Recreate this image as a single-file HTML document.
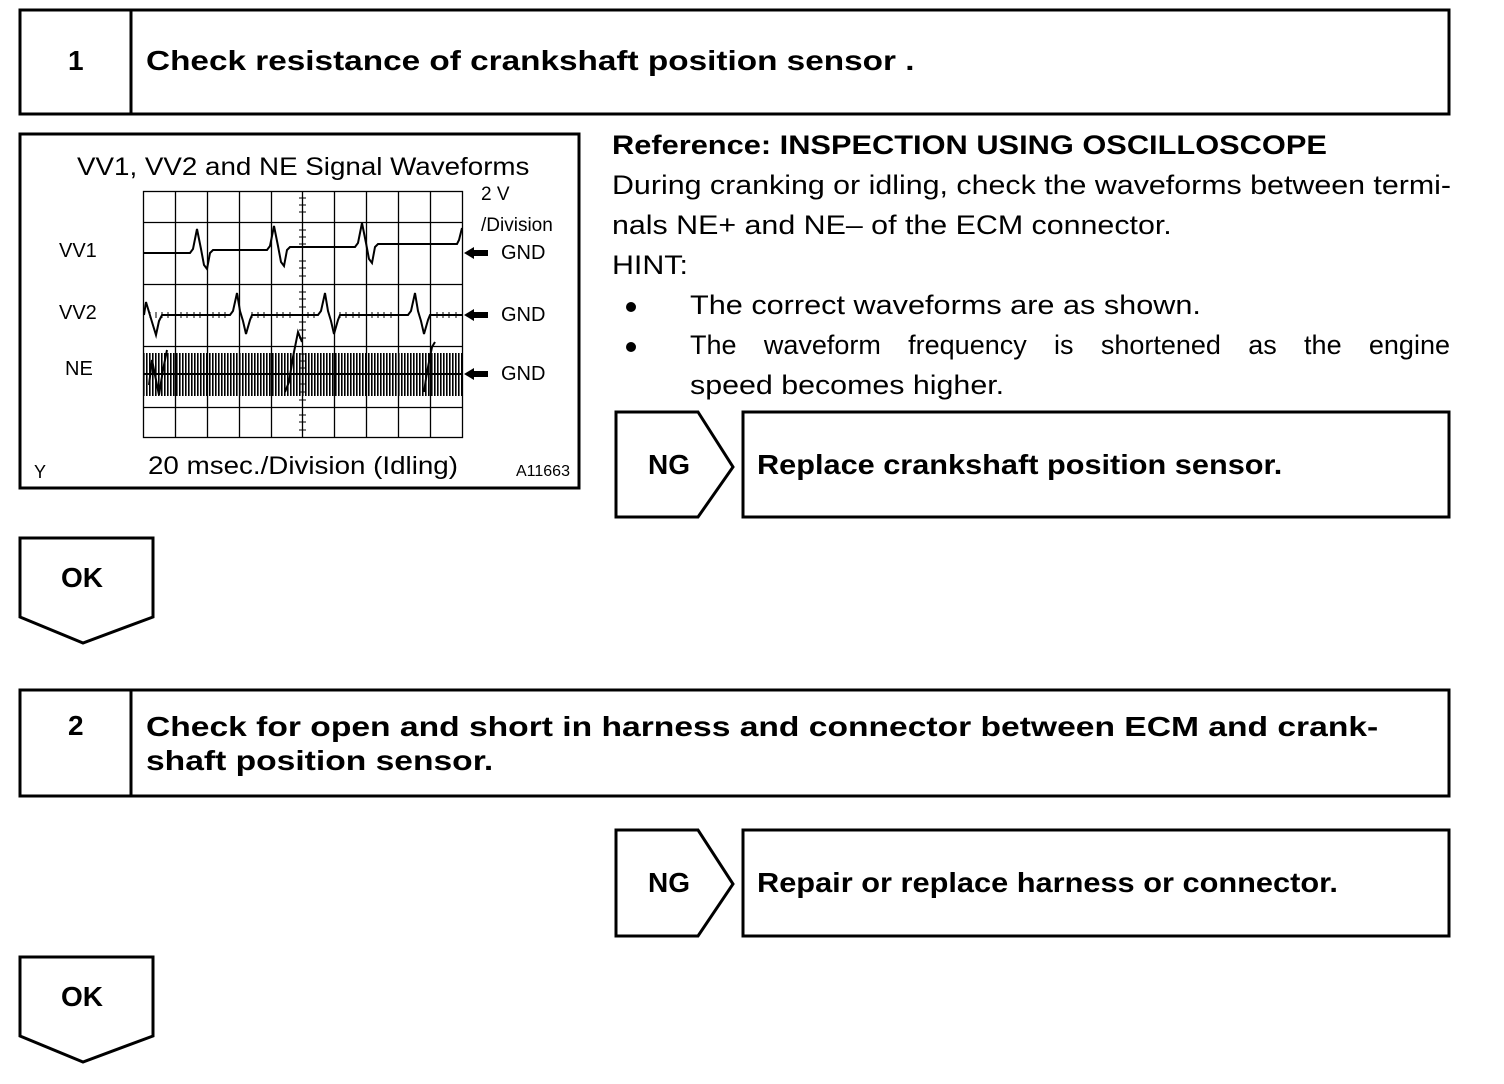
<!DOCTYPE html>
<html><head><meta charset="utf-8"><style>
html,body{margin:0;padding:0;background:#fff;}
body{width:1504px;height:1084px;position:relative;overflow:hidden;font-family:"Liberation Sans",sans-serif;color:#000;}
.t{position:absolute;white-space:nowrap;transform-origin:0 0;}
.b{font-weight:bold;}
</style></head><body>
<svg width="1504" height="1084" style="position:absolute;left:0;top:0" xmlns="http://www.w3.org/2000/svg">
<defs>
<pattern id="ne" x="143" y="0" width="3" height="60" patternUnits="userSpaceOnUse">
<rect x="0" y="0" width="1.6" height="60" fill="#000"/>
</pattern>
</defs>
<g fill="none" stroke="#000" stroke-width="3">
<rect x="20" y="10" width="1429" height="104"/>
<line x1="131" y1="10" x2="131" y2="114"/>
<rect x="20" y="134" width="559" height="354"/>
<polygon points="616,412 698,412 733,467 698,517 616,517"/>
<rect x="743" y="412" width="706" height="105"/>
<polygon points="20,538 153,538 153,617 83,643 20,617"/>
<rect x="20" y="690" width="1429" height="106"/>
<line x1="131" y1="690" x2="131" y2="796"/>
<polygon points="616,830 698,830 733,884 698,936 616,936"/>
<rect x="743" y="830" width="706" height="106"/>
<polygon points="20,957 153,957 153,1036 83,1062 20,1036"/>
</g>
<g stroke="#000" stroke-width="1.3" fill="none">
<rect x="143.5" y="191.5" width="319" height="246"/>
<line x1="175.5" y1="191" x2="175.5" y2="437"/>
<line x1="207.5" y1="191" x2="207.5" y2="437"/>
<line x1="239.5" y1="191" x2="239.5" y2="437"/>
<line x1="271.5" y1="191" x2="271.5" y2="437"/>
<line x1="302.5" y1="191" x2="302.5" y2="437"/>
<line x1="334.5" y1="191" x2="334.5" y2="437"/>
<line x1="366.5" y1="191" x2="366.5" y2="437"/>
<line x1="398.5" y1="191" x2="398.5" y2="437"/>
<line x1="430.5" y1="191" x2="430.5" y2="437"/>
<line x1="143" y1="222.5" x2="462" y2="222.5"/>
<line x1="143" y1="284.5" x2="462" y2="284.5"/>
<line x1="143" y1="346.5" x2="462" y2="346.5"/>
<line x1="143" y1="407.5" x2="462" y2="407.5"/>
</g>
<g stroke="#000" stroke-width="1">
<path d="M299 198h7M299 205h7M299 212h7M299 230h7M299 237h7M299 244h7M299 261h7M299 268h7M299 276h7M299 292h7M299 299h7M299 307h7M299 322h7M299 330h7M299 338h7M299 354h7M299 361h7M299 368h7M299 384h7M299 392h7M299 400h7M299 415h7M299 422h7M299 430h7"/>
<path d="M150 312v6M156 312v6M162 312v6M168 312v6M181 312v6M187 312v6M194 312v6M200 312v6M213 312v6M219 312v6M225 312v6M252 312v6M258 312v6M264 312v6M277 312v6M283 312v6M290 312v6M308 312v6M314 312v6M340 312v6M346 312v6M353 312v6M359 312v6M372 312v6M378 312v6M384 312v6M391 312v6M437 312v6M443 312v6M449 312v6M456 312v6"/>
</g>
<g stroke="#000" stroke-width="2" fill="none">
<path d="M143 253H190l3-4 4-20 4 20 3 16 3 4 3-16 3-3H267l3-4 4-20 4 20 3 16 3 4 3-16 3-3H355l3-4 4-20 4 20 3 16 3 4 3-16 3-3H457l2-4 3-12"/>
<path d="M144 315l2-13 3 10 3 10 4 13 3-14 3-6H230l3-4 4-18 3 18 3 10 3 13 4-14 2-5H318l3-4 4-18 3 18 3 10 3 13 4-14 2-5H408l3-4 4-18 3 18 3 10 3 13 4-14 2-5H462"/>
<path d="M149 385l3-25 4 20 3 15 4-25 4-20M285 392l4-10 4-25 5-25 4 10M424 392l3-20 5-25 3-5"/>
</g>
<rect x="143" y="353" width="319" height="43" fill="url(#ne)"/>
<line x1="143" y1="374" x2="462" y2="374" stroke="#000" stroke-width="2"/>
<g fill="#000">
<polygon points="464,253 474,247 474,250 488,250 488,256 474,256 474,259"/>
<polygon points="464,315 474,309 474,312 488,312 488,318 474,318 474,321"/>
<polygon points="464,374 474,368 474,371 488,371 488,377 474,377 474,380"/>
</g>
<g fill="#000">
<circle cx="631" cy="307" r="5"/>
<circle cx="631" cy="347" r="5"/>
</g>
</svg>

<div class="t b" style="left:68px;top:45px;font-size:28px;">1</div>
<div class="t b" style="left:146px;top:45px;font-size:28px;transform:scaleX(1.19);">Check resistance of crankshaft position sensor .</div>

<div class="t" style="left:77px;top:153px;font-size:25px;transform:scaleX(1.11);">VV1, VV2 and NE Signal Waveforms</div>
<div class="t" style="left:481px;top:184px;font-size:19px;">2 V</div>
<div class="t" style="left:481px;top:215px;font-size:19px;">/Division</div>
<div class="t" style="left:59px;top:240px;font-size:20px;">VV1</div>
<div class="t" style="left:59px;top:302px;font-size:20px;">VV2</div>
<div class="t" style="left:65px;top:358px;font-size:20px;">NE</div>
<div class="t" style="left:501px;top:242px;font-size:20px;">GND</div>
<div class="t" style="left:501px;top:304px;font-size:20px;">GND</div>
<div class="t" style="left:501px;top:363px;font-size:20px;">GND</div>
<div class="t" style="left:34px;top:462px;font-size:18px;">Y</div>
<div class="t" style="left:148px;top:452px;font-size:25px;transform:scaleX(1.11);">20 msec./Division (Idling)</div>
<div class="t" style="left:516px;top:463px;font-size:16px;">A11663</div>

<div class="t b" style="left:612px;top:130px;font-size:27px;transform:scaleX(1.14);">Reference: INSPECTION USING OSCILLOSCOPE</div>
<div class="t" style="left:612px;top:170px;font-size:27px;transform:scaleX(1.125);">During cranking or idling, check the waveforms between termi-</div>
<div class="t" style="left:612px;top:210px;font-size:27px;transform:scaleX(1.125);">nals NE+ and NE– of the ECM connector.</div>
<div class="t" style="left:612px;top:250px;font-size:27px;transform:scaleX(1.125);">HINT:</div>
<div class="t" style="left:690px;top:290px;font-size:27px;transform:scaleX(1.135);">The correct waveforms are as shown.</div>
<div class="t" style="left:690px;top:330px;font-size:27px;width:760px;display:flex;justify-content:space-between;"><span>The</span><span>waveform</span><span>frequency</span><span>is</span><span>shortened</span><span>as</span><span>the</span><span>engine</span></div>
<div class="t" style="left:690px;top:370px;font-size:27px;transform:scaleX(1.125);">speed becomes higher.</div>

<div class="t b" style="left:648px;top:449px;font-size:28px;">NG</div>
<div class="t b" style="left:757px;top:449px;font-size:28px;transform:scaleX(1.096);">Replace crankshaft position sensor.</div>
<div class="t b" style="left:61px;top:562px;font-size:28px;">OK</div>

<div class="t b" style="left:68px;top:710px;font-size:28px;">2</div>
<div class="t b" style="left:146px;top:710px;font-size:28px;line-height:34px;transform:scaleX(1.2);">Check for open and short in harness and connector between ECM and crank-<br>shaft position sensor.</div>

<div class="t b" style="left:648px;top:867px;font-size:28px;">NG</div>
<div class="t b" style="left:757px;top:867px;font-size:28px;transform:scaleX(1.098);">Repair or replace harness or connector.</div>
<div class="t b" style="left:61px;top:981px;font-size:28px;">OK</div>
</body></html>
